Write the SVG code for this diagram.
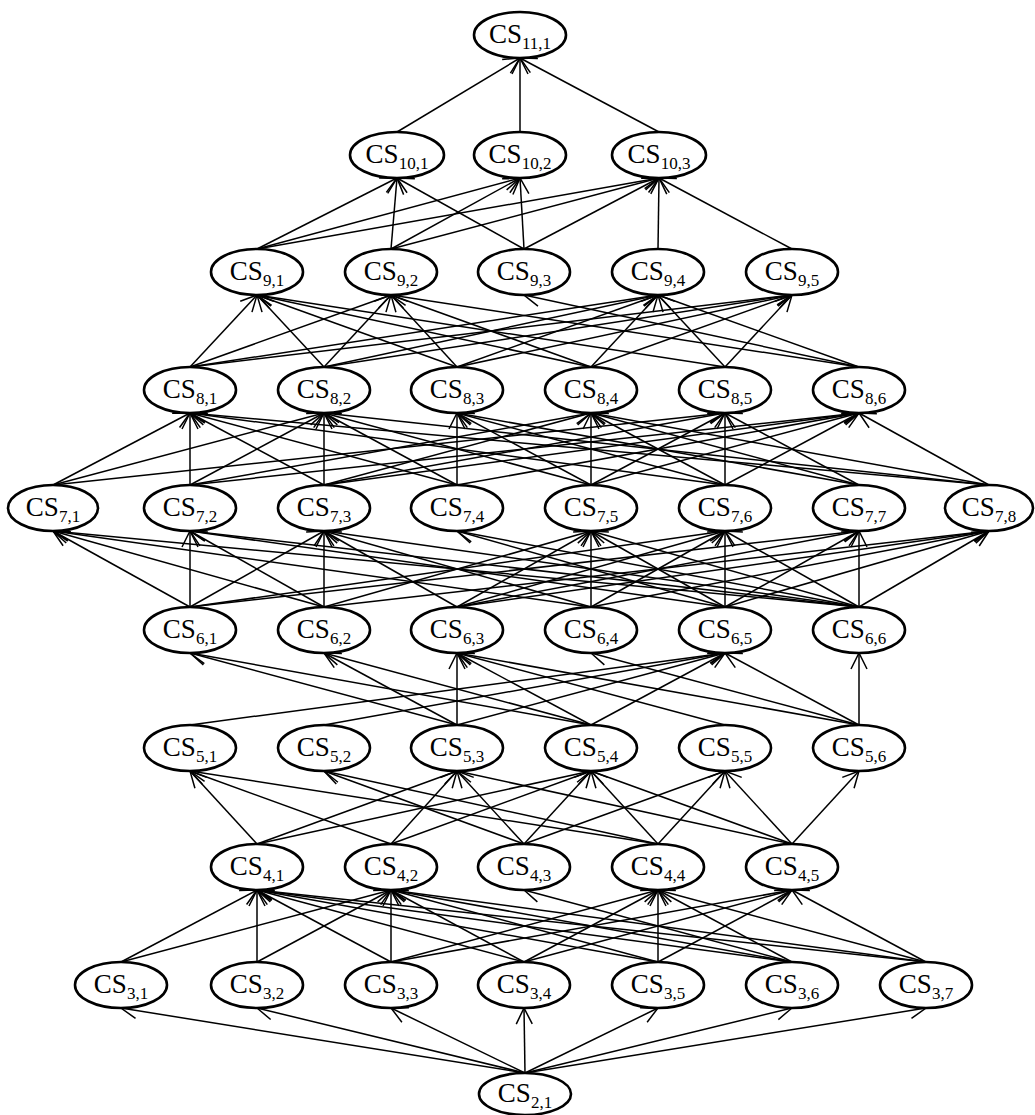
<svg xmlns="http://www.w3.org/2000/svg" width="1035" height="1115" viewBox="0 0 1035 1115">
<style>
.e line{stroke:#000;stroke-width:1.5;marker-end:url(#a)}
.n ellipse{fill:#fff;stroke:#000;stroke-width:2.6}
.n text{font-family:"Liberation Serif","Times New Roman",serif;font-size:27px;text-anchor:middle;fill:#000}
.s{font-size:17px}
</style>
<defs>
<marker id="a" markerUnits="userSpaceOnUse" orient="auto" refX="0" refY="0" markerWidth="20" markerHeight="20" overflow="visible">
<path d="M-16,-8 L0,0 L-16,8" fill="none" stroke="#000" stroke-width="1.5"/>
</marker>
</defs>
<rect width="1035" height="1115" fill="#fff"/>
<g id="connectors" class="e">
<!-- 2 -> 3 -->
<line x1="525" y1="1073" x2="121" y2="1008"/>
<line x1="525" y1="1073" x2="257" y2="1008"/>
<line x1="525" y1="1073" x2="391" y2="1008"/>
<line x1="525" y1="1073" x2="524" y2="1008"/>
<line x1="525" y1="1073" x2="658" y2="1008"/>
<line x1="525" y1="1073" x2="792" y2="1008"/>
<line x1="525" y1="1073" x2="926" y2="1008"/>
<!-- 3 -> 4 -->
<line x1="121" y1="962" x2="257" y2="890"/>
<line x1="121" y1="962" x2="391" y2="890"/>
<line x1="257" y1="962" x2="257" y2="890"/>
<line x1="257" y1="962" x2="391" y2="890"/>
<line x1="391" y1="962" x2="257" y2="890"/>
<line x1="391" y1="962" x2="391" y2="890"/>
<line x1="391" y1="962" x2="658" y2="890"/>
<line x1="391" y1="962" x2="792" y2="890"/>
<line x1="524" y1="962" x2="257" y2="890"/>
<line x1="524" y1="962" x2="391" y2="890"/>
<line x1="524" y1="962" x2="658" y2="890"/>
<line x1="524" y1="962" x2="792" y2="890"/>
<line x1="658" y1="962" x2="257" y2="890"/>
<line x1="658" y1="962" x2="391" y2="890"/>
<line x1="658" y1="962" x2="658" y2="890"/>
<line x1="658" y1="962" x2="792" y2="890"/>
<line x1="792" y1="962" x2="257" y2="890"/>
<line x1="792" y1="962" x2="391" y2="890"/>
<line x1="792" y1="962" x2="524" y2="890"/>
<line x1="792" y1="962" x2="658" y2="890"/>
<line x1="926" y1="962" x2="257" y2="890"/>
<line x1="926" y1="962" x2="391" y2="890"/>
<line x1="926" y1="962" x2="658" y2="890"/>
<line x1="926" y1="962" x2="792" y2="890"/>
<!-- 4 -> 5 -->
<line x1="257" y1="844" x2="190" y2="771"/>
<line x1="257" y1="844" x2="457" y2="771"/>
<line x1="257" y1="844" x2="591" y2="771"/>
<line x1="391" y1="844" x2="190" y2="771"/>
<line x1="391" y1="844" x2="457" y2="771"/>
<line x1="391" y1="844" x2="591" y2="771"/>
<line x1="524" y1="844" x2="324" y2="771"/>
<line x1="524" y1="844" x2="457" y2="771"/>
<line x1="524" y1="844" x2="591" y2="771"/>
<line x1="524" y1="844" x2="725" y2="771"/>
<line x1="658" y1="844" x2="190" y2="771"/>
<line x1="658" y1="844" x2="324" y2="771"/>
<line x1="658" y1="844" x2="591" y2="771"/>
<line x1="658" y1="844" x2="725" y2="771"/>
<line x1="792" y1="844" x2="457" y2="771"/>
<line x1="792" y1="844" x2="591" y2="771"/>
<line x1="792" y1="844" x2="725" y2="771"/>
<line x1="792" y1="844" x2="859" y2="771"/>
<!-- 5 -> 6 -->
<line x1="190" y1="725" x2="725" y2="653"/>
<line x1="324" y1="725" x2="725" y2="653"/>
<line x1="457" y1="725" x2="190" y2="653"/>
<line x1="457" y1="725" x2="324" y2="653"/>
<line x1="457" y1="725" x2="457" y2="653"/>
<line x1="457" y1="725" x2="725" y2="653"/>
<line x1="591" y1="725" x2="190" y2="653"/>
<line x1="591" y1="725" x2="324" y2="653"/>
<line x1="591" y1="725" x2="457" y2="653"/>
<line x1="591" y1="725" x2="725" y2="653"/>
<line x1="725" y1="725" x2="457" y2="653"/>
<line x1="859" y1="725" x2="457" y2="653"/>
<line x1="859" y1="725" x2="591" y2="653"/>
<line x1="859" y1="725" x2="725" y2="653"/>
<line x1="859" y1="725" x2="859" y2="653"/>
<!-- 6 -> 7 -->
<line x1="190" y1="607" x2="53" y2="531"/>
<line x1="190" y1="607" x2="190" y2="531"/>
<line x1="190" y1="607" x2="324" y2="531"/>
<line x1="190" y1="607" x2="725" y2="531"/>
<line x1="190" y1="607" x2="859" y2="531"/>
<line x1="324" y1="607" x2="53" y2="531"/>
<line x1="324" y1="607" x2="190" y2="531"/>
<line x1="324" y1="607" x2="324" y2="531"/>
<line x1="324" y1="607" x2="591" y2="531"/>
<line x1="324" y1="607" x2="989" y2="531"/>
<line x1="457" y1="607" x2="324" y2="531"/>
<line x1="457" y1="607" x2="591" y2="531"/>
<line x1="457" y1="607" x2="725" y2="531"/>
<line x1="457" y1="607" x2="859" y2="531"/>
<line x1="457" y1="607" x2="989" y2="531"/>
<line x1="591" y1="607" x2="53" y2="531"/>
<line x1="591" y1="607" x2="324" y2="531"/>
<line x1="591" y1="607" x2="591" y2="531"/>
<line x1="591" y1="607" x2="725" y2="531"/>
<line x1="591" y1="607" x2="989" y2="531"/>
<line x1="725" y1="607" x2="190" y2="531"/>
<line x1="725" y1="607" x2="457" y2="531"/>
<line x1="725" y1="607" x2="591" y2="531"/>
<line x1="725" y1="607" x2="725" y2="531"/>
<line x1="725" y1="607" x2="859" y2="531"/>
<line x1="725" y1="607" x2="989" y2="531"/>
<line x1="859" y1="607" x2="53" y2="531"/>
<line x1="859" y1="607" x2="190" y2="531"/>
<line x1="859" y1="607" x2="324" y2="531"/>
<line x1="859" y1="607" x2="457" y2="531"/>
<line x1="859" y1="607" x2="591" y2="531"/>
<line x1="859" y1="607" x2="725" y2="531"/>
<line x1="859" y1="607" x2="859" y2="531"/>
<line x1="859" y1="607" x2="989" y2="531"/>
<!-- 7 -> 8 -->
<line x1="53" y1="485" x2="190" y2="413"/>
<line x1="53" y1="485" x2="324" y2="413"/>
<line x1="53" y1="485" x2="725" y2="413"/>
<line x1="190" y1="485" x2="190" y2="413"/>
<line x1="190" y1="485" x2="324" y2="413"/>
<line x1="190" y1="485" x2="591" y2="413"/>
<line x1="190" y1="485" x2="859" y2="413"/>
<line x1="324" y1="485" x2="190" y2="413"/>
<line x1="324" y1="485" x2="324" y2="413"/>
<line x1="324" y1="485" x2="591" y2="413"/>
<line x1="324" y1="485" x2="725" y2="413"/>
<line x1="324" y1="485" x2="859" y2="413"/>
<line x1="457" y1="485" x2="190" y2="413"/>
<line x1="457" y1="485" x2="324" y2="413"/>
<line x1="457" y1="485" x2="457" y2="413"/>
<line x1="457" y1="485" x2="859" y2="413"/>
<line x1="591" y1="485" x2="324" y2="413"/>
<line x1="591" y1="485" x2="457" y2="413"/>
<line x1="591" y1="485" x2="591" y2="413"/>
<line x1="591" y1="485" x2="725" y2="413"/>
<line x1="591" y1="485" x2="859" y2="413"/>
<line x1="725" y1="485" x2="190" y2="413"/>
<line x1="725" y1="485" x2="457" y2="413"/>
<line x1="725" y1="485" x2="591" y2="413"/>
<line x1="725" y1="485" x2="725" y2="413"/>
<line x1="725" y1="485" x2="859" y2="413"/>
<line x1="859" y1="485" x2="457" y2="413"/>
<line x1="859" y1="485" x2="591" y2="413"/>
<line x1="859" y1="485" x2="725" y2="413"/>
<line x1="989" y1="485" x2="190" y2="413"/>
<line x1="989" y1="485" x2="324" y2="413"/>
<line x1="989" y1="485" x2="591" y2="413"/>
<line x1="989" y1="485" x2="859" y2="413"/>
<!-- 8 -> 9 -->
<line x1="190" y1="367" x2="257" y2="295"/>
<line x1="190" y1="367" x2="391" y2="295"/>
<line x1="190" y1="367" x2="658" y2="295"/>
<line x1="190" y1="367" x2="792" y2="295"/>
<line x1="324" y1="367" x2="257" y2="295"/>
<line x1="324" y1="367" x2="391" y2="295"/>
<line x1="324" y1="367" x2="658" y2="295"/>
<line x1="324" y1="367" x2="792" y2="295"/>
<line x1="457" y1="367" x2="257" y2="295"/>
<line x1="457" y1="367" x2="391" y2="295"/>
<line x1="457" y1="367" x2="658" y2="295"/>
<line x1="457" y1="367" x2="792" y2="295"/>
<line x1="591" y1="367" x2="257" y2="295"/>
<line x1="591" y1="367" x2="391" y2="295"/>
<line x1="591" y1="367" x2="658" y2="295"/>
<line x1="591" y1="367" x2="792" y2="295"/>
<line x1="725" y1="367" x2="257" y2="295"/>
<line x1="725" y1="367" x2="658" y2="295"/>
<line x1="725" y1="367" x2="792" y2="295"/>
<line x1="859" y1="367" x2="391" y2="295"/>
<line x1="859" y1="367" x2="524" y2="295"/>
<line x1="859" y1="367" x2="658" y2="295"/>
<!-- 9 -> 10 -->
<line x1="257" y1="249" x2="397" y2="178"/>
<line x1="257" y1="249" x2="520" y2="178"/>
<line x1="257" y1="249" x2="659" y2="178"/>
<line x1="391" y1="249" x2="397" y2="178"/>
<line x1="391" y1="249" x2="520" y2="178"/>
<line x1="391" y1="249" x2="659" y2="178"/>
<line x1="524" y1="249" x2="397" y2="178"/>
<line x1="524" y1="249" x2="520" y2="178"/>
<line x1="524" y1="249" x2="659" y2="178"/>
<line x1="658" y1="249" x2="659" y2="178"/>
<line x1="792" y1="249" x2="659" y2="178"/>
<!-- 10 -> 11 -->
<line x1="397" y1="132" x2="520" y2="58"/>
<line x1="520" y1="132" x2="520" y2="58"/>
<line x1="659" y1="132" x2="520" y2="58"/>
</g>
<g class="n">
<g id="cs11_1"><ellipse cx="520" cy="35" rx="46" ry="23"/><text x="520" y="43">CS<tspan class="s" dy="6">11,1</tspan></text></g>
<g id="cs10_1"><ellipse cx="397" cy="155" rx="47" ry="23"/><text x="397" y="163">CS<tspan class="s" dy="6">10,1</tspan></text></g>
<g id="cs10_2"><ellipse cx="520" cy="155" rx="46" ry="23"/><text x="520" y="163">CS<tspan class="s" dy="6">10,2</tspan></text></g>
<g id="cs10_3"><ellipse cx="659" cy="155" rx="47" ry="23"/><text x="659" y="163">CS<tspan class="s" dy="6">10,3</tspan></text></g>
<g id="cs9_1"><ellipse cx="257" cy="272" rx="46" ry="23"/><text x="257" y="280">CS<tspan class="s" dy="6">9,1</tspan></text></g>
<g id="cs9_2"><ellipse cx="391" cy="272" rx="46" ry="23"/><text x="391" y="280">CS<tspan class="s" dy="6">9,2</tspan></text></g>
<g id="cs9_3"><ellipse cx="524" cy="272" rx="46" ry="23"/><text x="524" y="280">CS<tspan class="s" dy="6">9,3</tspan></text></g>
<g id="cs9_4"><ellipse cx="658" cy="272" rx="46" ry="23"/><text x="658" y="280">CS<tspan class="s" dy="6">9,4</tspan></text></g>
<g id="cs9_5"><ellipse cx="792" cy="272" rx="46" ry="23"/><text x="792" y="280">CS<tspan class="s" dy="6">9,5</tspan></text></g>
<g id="cs8_1"><ellipse cx="190" cy="390" rx="46" ry="23"/><text x="190" y="398">CS<tspan class="s" dy="6">8,1</tspan></text></g>
<g id="cs8_2"><ellipse cx="324" cy="390" rx="46" ry="23"/><text x="324" y="398">CS<tspan class="s" dy="6">8,2</tspan></text></g>
<g id="cs8_3"><ellipse cx="457" cy="390" rx="46" ry="23"/><text x="457" y="398">CS<tspan class="s" dy="6">8,3</tspan></text></g>
<g id="cs8_4"><ellipse cx="591" cy="390" rx="46" ry="23"/><text x="591" y="398">CS<tspan class="s" dy="6">8,4</tspan></text></g>
<g id="cs8_5"><ellipse cx="725" cy="390" rx="46" ry="23"/><text x="725" y="398">CS<tspan class="s" dy="6">8,5</tspan></text></g>
<g id="cs8_6"><ellipse cx="859" cy="390" rx="46" ry="23"/><text x="859" y="398">CS<tspan class="s" dy="6">8,6</tspan></text></g>
<g id="cs7_1"><ellipse cx="53" cy="508" rx="45" ry="23"/><text x="53" y="516">CS<tspan class="s" dy="6">7,1</tspan></text></g>
<g id="cs7_2"><ellipse cx="190" cy="508" rx="46" ry="23"/><text x="190" y="516">CS<tspan class="s" dy="6">7,2</tspan></text></g>
<g id="cs7_3"><ellipse cx="324" cy="508" rx="46" ry="23"/><text x="324" y="516">CS<tspan class="s" dy="6">7,3</tspan></text></g>
<g id="cs7_4"><ellipse cx="457" cy="508" rx="46" ry="23"/><text x="457" y="516">CS<tspan class="s" dy="6">7,4</tspan></text></g>
<g id="cs7_5"><ellipse cx="591" cy="508" rx="46" ry="23"/><text x="591" y="516">CS<tspan class="s" dy="6">7,5</tspan></text></g>
<g id="cs7_6"><ellipse cx="725" cy="508" rx="46" ry="23"/><text x="725" y="516">CS<tspan class="s" dy="6">7,6</tspan></text></g>
<g id="cs7_7"><ellipse cx="859" cy="508" rx="46" ry="23"/><text x="859" y="516">CS<tspan class="s" dy="6">7,7</tspan></text></g>
<g id="cs7_8"><ellipse cx="989" cy="508" rx="44" ry="23"/><text x="989" y="516">CS<tspan class="s" dy="6">7,8</tspan></text></g>
<g id="cs6_1"><ellipse cx="190" cy="630" rx="46" ry="23"/><text x="190" y="638">CS<tspan class="s" dy="6">6,1</tspan></text></g>
<g id="cs6_2"><ellipse cx="324" cy="630" rx="46" ry="23"/><text x="324" y="638">CS<tspan class="s" dy="6">6,2</tspan></text></g>
<g id="cs6_3"><ellipse cx="457" cy="630" rx="46" ry="23"/><text x="457" y="638">CS<tspan class="s" dy="6">6,3</tspan></text></g>
<g id="cs6_4"><ellipse cx="591" cy="630" rx="46" ry="23"/><text x="591" y="638">CS<tspan class="s" dy="6">6,4</tspan></text></g>
<g id="cs6_5"><ellipse cx="725" cy="630" rx="46" ry="23"/><text x="725" y="638">CS<tspan class="s" dy="6">6,5</tspan></text></g>
<g id="cs6_6"><ellipse cx="859" cy="630" rx="46" ry="23"/><text x="859" y="638">CS<tspan class="s" dy="6">6,6</tspan></text></g>
<g id="cs5_1"><ellipse cx="190" cy="748" rx="46" ry="23"/><text x="190" y="756">CS<tspan class="s" dy="6">5,1</tspan></text></g>
<g id="cs5_2"><ellipse cx="324" cy="748" rx="46" ry="23"/><text x="324" y="756">CS<tspan class="s" dy="6">5,2</tspan></text></g>
<g id="cs5_3"><ellipse cx="457" cy="748" rx="46" ry="23"/><text x="457" y="756">CS<tspan class="s" dy="6">5,3</tspan></text></g>
<g id="cs5_4"><ellipse cx="591" cy="748" rx="46" ry="23"/><text x="591" y="756">CS<tspan class="s" dy="6">5,4</tspan></text></g>
<g id="cs5_5"><ellipse cx="725" cy="748" rx="46" ry="23"/><text x="725" y="756">CS<tspan class="s" dy="6">5,5</tspan></text></g>
<g id="cs5_6"><ellipse cx="859" cy="748" rx="46" ry="23"/><text x="859" y="756">CS<tspan class="s" dy="6">5,6</tspan></text></g>
<g id="cs4_1"><ellipse cx="257" cy="867" rx="46" ry="23"/><text x="257" y="875">CS<tspan class="s" dy="6">4,1</tspan></text></g>
<g id="cs4_2"><ellipse cx="391" cy="867" rx="46" ry="23"/><text x="391" y="875">CS<tspan class="s" dy="6">4,2</tspan></text></g>
<g id="cs4_3"><ellipse cx="524" cy="867" rx="46" ry="23"/><text x="524" y="875">CS<tspan class="s" dy="6">4,3</tspan></text></g>
<g id="cs4_4"><ellipse cx="658" cy="867" rx="46" ry="23"/><text x="658" y="875">CS<tspan class="s" dy="6">4,4</tspan></text></g>
<g id="cs4_5"><ellipse cx="792" cy="867" rx="46" ry="23"/><text x="792" y="875">CS<tspan class="s" dy="6">4,5</tspan></text></g>
<g id="cs3_1"><ellipse cx="121" cy="985" rx="46" ry="23"/><text x="121" y="993">CS<tspan class="s" dy="6">3,1</tspan></text></g>
<g id="cs3_2"><ellipse cx="257" cy="985" rx="46" ry="23"/><text x="257" y="993">CS<tspan class="s" dy="6">3,2</tspan></text></g>
<g id="cs3_3"><ellipse cx="391" cy="985" rx="46" ry="23"/><text x="391" y="993">CS<tspan class="s" dy="6">3,3</tspan></text></g>
<g id="cs3_4"><ellipse cx="524" cy="985" rx="46" ry="23"/><text x="524" y="993">CS<tspan class="s" dy="6">3,4</tspan></text></g>
<g id="cs3_5"><ellipse cx="658" cy="985" rx="46" ry="23"/><text x="658" y="993">CS<tspan class="s" dy="6">3,5</tspan></text></g>
<g id="cs3_6"><ellipse cx="792" cy="985" rx="46" ry="23"/><text x="792" y="993">CS<tspan class="s" dy="6">3,6</tspan></text></g>
<g id="cs3_7"><ellipse cx="926" cy="985" rx="46" ry="23"/><text x="926" y="993">CS<tspan class="s" dy="6">3,7</tspan></text></g>
<g id="cs2_1"><ellipse cx="525" cy="1094" rx="46" ry="21"/><text x="525" y="1102">CS<tspan class="s" dy="6">2,1</tspan></text></g>
</g>
</svg>
